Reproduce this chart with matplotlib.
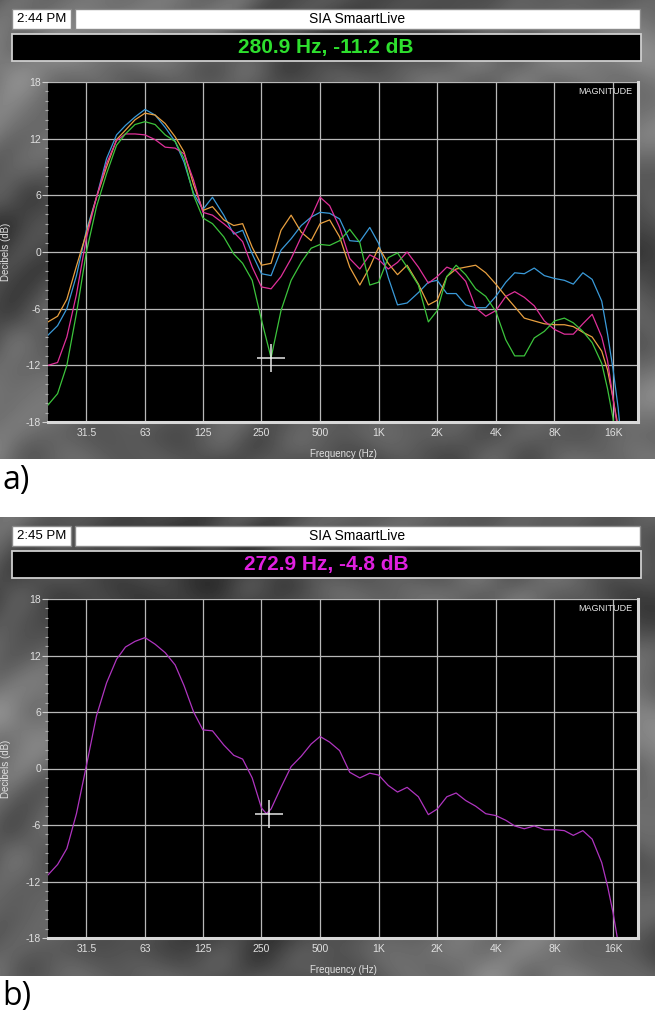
import numpy as np
import matplotlib
matplotlib.use("Agg")
import matplotlib.pyplot as plt
from matplotlib.patches import Rectangle
from matplotlib.ticker import NullLocator, MultipleLocator

plt.rcParams['font.family'] = ['Liberation Sans', 'DejaVu Sans']
plt.rcParams['axes.unicode_minus'] = False

W, H = 657, 1024

# --- data (Hz / dB) ---
freq_a = [20, 22.4, 25, 28, 31.5, 35.5, 40, 45, 50, 56, 63, 71, 80, 90, 100, 112,
          125, 140, 160, 180, 200, 224, 250, 280, 315, 355, 400, 450, 500, 560,
          630, 710, 800, 900, 1000, 1120, 1250, 1400, 1600, 1800, 2000, 2240, 2500,
          2800, 3150, 3550, 4000, 4500, 5000, 5600, 6300, 7100, 8000, 9000, 10000,
          11200, 12500, 14000, 15000, 16000, 17000, 18000, 20000]

blue_a = [-8.8, -7.8, -6.0, -2.5, 2.3, 5.8, 9.9, 12.4, 13.4, 14.3, 15.1, 14.5, 13.2, 11.7,
          9.5, 6.2, 4.5, 5.8, 3.9, 1.9, 2.3, -0.2, -2.3, -2.5, 0.2, 1.4, 2.8, 3.7, 4.2, 4.1,
          3.5, 1.2, 1.1, 2.6, 0.9, -2.7, -5.6, -5.4, -4.3, -3.2, -3.0, -4.4, -4.4, -5.6,
          -5.9, -5.9, -4.7, -3.2, -2.2, -2.3, -1.7, -2.5, -2.8, -3.0, -3.4, -2.2, -2.9,
          -5.2, -8.7, -12.4, -16.5, -22, -30]

orange_a = [-7.4, -6.8, -5.0, -1.5, 2.0, 5.8, 9.0, 11.9, 12.9, 14.0, 14.7, 14.5, 13.6, 12.2,
            10.6, 7.1, 4.4, 4.8, 3.4, 2.8, 3.0, 0.5, -1.4, -1.2, 2.3, 3.9, 2.1, 1.2, 3.0, 3.4,
            1.6, -1.6, -3.5, -1.6, 0.5, -1.2, -2.4, -1.4, -3.4, -5.6, -5.1, -2.6, -1.8, -1.6,
            -1.4, -2.2, -3.4, -4.7, -5.8, -7.0, -7.3, -7.6, -7.7, -7.7, -7.9, -8.5, -9.0,
            -10.5, -12.5, -15.5, -18.5, -24, -30]

magenta_a = [-12.0, -11.7, -9.0, -4.5, 1.5, 5.8, 9.4, 11.8, 12.5, 12.5, 12.4, 11.9, 11.1, 11.0,
             10.4, 7.6, 4.2, 3.9, 3.0, 2.1, 1.1, -1.6, -3.7, -3.9, -2.6, -0.7, 1.6, 3.7, 5.8, 4.9,
             2.6, -0.7, -1.8, -0.3, -0.8, -1.8, -1.1, 0.0, -1.6, -3.3, -2.6, -1.6, -2.0, -3.1,
             -5.9, -6.8, -6.2, -4.7, -4.2, -4.8, -5.7, -7.3, -8.2, -8.7, -8.7, -7.6, -6.6,
             -9.0, -11.5, -15.5, -19, -24, -30]

green_a = [-16.2, -15.0, -12.0, -6.5, 0.0, 4.8, 8.3, 11.3, 12.5, 13.5, 13.8, 13.5, 12.4, 11.7,
           9.9, 6.0, 3.6, 3.0, 1.6, -0.2, -1.2, -3.0, -7.2, -11.2, -6.2, -3.0, -1.1, 0.4, 0.8, 0.7,
           1.2, 2.4, 1.0, -3.5, -3.2, -0.6, -0.1, -1.6, -3.5, -7.4, -6.2, -2.6, -1.4, -2.4,
           -3.9, -4.7, -6.3, -9.3, -11.0, -11.0, -9.1, -8.4, -7.3, -7.0, -7.5, -8.4, -9.6,
           -11.8, -14.5, -17.6, -22, -26, -32]

freq_b = [20, 22.4, 25, 28, 31.5, 35.5, 40, 45, 50, 56, 63, 71, 80, 90, 100, 112,
          125, 140, 160, 180, 200, 224, 250, 265, 280, 315, 355, 400, 450, 500, 560,
          630, 710, 800, 900, 1000, 1120, 1250, 1400, 1600, 1800, 2000, 2240, 2500,
          2800, 3150, 3550, 4000, 4500, 5000, 5600, 6300, 7100, 8000, 9000, 10000,
          11200, 12500, 14000, 15000, 16000, 17000, 18000, 20000]

purple_b = [-11.3, -10.2, -8.5, -4.8, 0.3, 5.6, 9.1, 11.6, 12.9, 13.5, 13.9, 13.2, 12.3, 11.0,
            8.8, 6.0, 4.1, 4.0, 2.5, 1.4, 1.0, -1.0, -4.2, -4.8, -4.3, -2.0, 0.2, 1.3, 2.6, 3.4,
            2.8, 1.9, -0.4, -1.0, -0.5, -0.7, -1.8, -2.5, -2.0, -3.0, -4.9, -4.3, -3.0, -2.6,
            -3.4, -4.0, -4.8, -5.0, -5.5, -6.1, -6.4, -6.1, -6.5, -6.5, -6.6, -7.1, -6.6,
            -7.5, -10.0, -12.5, -15.3, -18.5, -22, -28]

cursor_a = (280.9, -11.2)
cursor_b = (272.9, -4.8)

tick_freqs = [31.5, 63, 125, 250, 500, 1000, 2000, 4000, 8000, 16000]
tick_labels = ['31.5', '63', '125', '250', '500', '1K', '2K', '4K', '8K', '16K']
db_ticks = [-18, -12, -6, 0, 6, 12, 18]


def px_axes(fig, x0, y0, x1, y1):
    return fig.add_axes([x0 / W, 1 - y1 / H, (x1 - x0) / W, (y1 - y0) / H])


def marbre(h, w, phase):
    # fond gris "marbré" de l'écran SmaartLive (motif déterministe, doux)
    yy, xx = np.mgrid[0:h, 0:w].astype(float)
    v = (0.36
         + 0.08 * np.sin(xx / 95.0 + 1.5 * np.sin(yy / 60.0) + phase)
         + 0.06 * np.sin(yy / 48.0 + 1.2 * np.sin(xx / 70.0) + 2 * phase)
         + 0.035 * np.sin((xx + 2 * yy) / 27.0 + 2 * np.sin(xx / 40.0))
         + 0.02 * np.cos(xx / 13.0 + 2 * np.sin(yy / 21.0)))
    return np.clip(v, 0.12, 0.7)


def panneau(bg, y0, heure, lecture, couleur, phase):
    bg.imshow(marbre(459, 655, phase), cmap='gray', vmin=0, vmax=1,
              extent=(0, 655, y0 + 459, y0), aspect='auto', interpolation='bilinear')
    bg.add_patch(Rectangle((11.5, y0 + 8.5), 59.5, 20, fc='white', ec='#8a8a8a', lw=1))
    bg.text(41.3, y0 + 18.8, heure, ha='center', va='center', fontsize=9.5, color='black')
    bg.add_patch(Rectangle((74.5, y0 + 8.5), 565, 20, fc='white', ec='#8a8a8a', lw=1))
    bg.text(357, y0 + 18.8, 'SIA SmaartLive', ha='center', va='center', fontsize=10, color='black')
    bg.add_patch(Rectangle((11.5, y0 + 33.5), 629, 27.5, fc='black', ec='#cfcfcf', lw=1.3))
    bg.text(326, y0 + 47.5, lecture, ha='center', va='center', fontsize=15,
            fontweight='bold', color=couleur)


def courbes(ax, freqs, series, couleurs, cursor):
    ax.set_facecolor('black')
    for vals, c in zip(series, couleurs):
        ax.plot(freqs, vals, color=c, lw=0.9)
    ax.plot([cursor[0]], [cursor[1]], marker='+', ms=20, mew=1.1, color='#e6e6e6')
    ax.set_xscale('log')
    ax.set_xlim(20, 21500)
    ax.set_ylim(-18, 18)
    ax.set_xticks(tick_freqs)
    ax.set_xticklabels(tick_labels)
    ax.xaxis.set_minor_locator(NullLocator())
    ax.set_yticks(db_ticks)
    ax.yaxis.set_minor_locator(MultipleLocator(1))
    ax.grid(True, which='major', color='#b8b8b8', lw=0.9)
    ax.set_axisbelow(True)
    ax.tick_params(axis='x', length=0, pad=4, labelsize=7.5, labelcolor='#e0e0e0')
    ax.tick_params(axis='y', which='major', length=4, width=0.8, color='#d0d0d0',
                   labelsize=7.5, labelcolor='#e0e0e0', pad=1)
    ax.tick_params(axis='y', which='minor', length=2, width=0.8, color='#b0b0b0')
    for s in ('top', 'left'):
        ax.spines[s].set_visible(False)
    for s in ('bottom', 'right'):
        ax.spines[s].set_color('#d8d8d8')
        ax.spines[s].set_linewidth(2.2)
    ax.set_xlabel('Frequency (Hz)', fontsize=7, color='#e0e0e0')
    ax.xaxis.set_label_coords(0.5, -0.08)
    ax.set_ylabel('Decibels (dB)', fontsize=7, color='#e0e0e0')
    ax.yaxis.set_label_coords(-0.062, 0.5)
    ax.text(0.99, 0.985, 'MAGNITUDE', transform=ax.transAxes, ha='right', va='top',
            fontsize=6.5, color='#e8e8e8')


fig = plt.figure(figsize=(W / 100, H / 100), dpi=100)
bg = fig.add_axes([0, 0, 1, 1])
bg.set_xlim(0, W)
bg.set_ylim(H, 0)
bg.axis('off')

panneau(bg, 0, '2:44 PM', '280.9 Hz, -11.2 dB', '#2ee02e', 0.0)
panneau(bg, 517, '2:45 PM', '272.9 Hz, -4.8 dB', '#e020e0', 1.7)

bg.text(2, 480, 'a)', ha='left', va='center', fontsize=23, color='black',
        family=['Open Sans', 'DejaVu Sans'])
bg.text(2, 997, 'b)', ha='left', va='center', fontsize=23, color='black',
        family=['Open Sans', 'DejaVu Sans'])

ax_a = px_axes(fig, 48, 82, 638, 422)
courbes(ax_a, freq_a, [blue_a, orange_a, magenta_a, green_a],
        ['#3a9ad9', '#e8a040', '#e0309a', '#3cc43c'], cursor_a)

ax_b = px_axes(fig, 48, 599, 638, 938)
courbes(ax_b, freq_b, [purple_b], ['#b035c0'], cursor_b)

fig.savefig('out.png', dpi=100)
